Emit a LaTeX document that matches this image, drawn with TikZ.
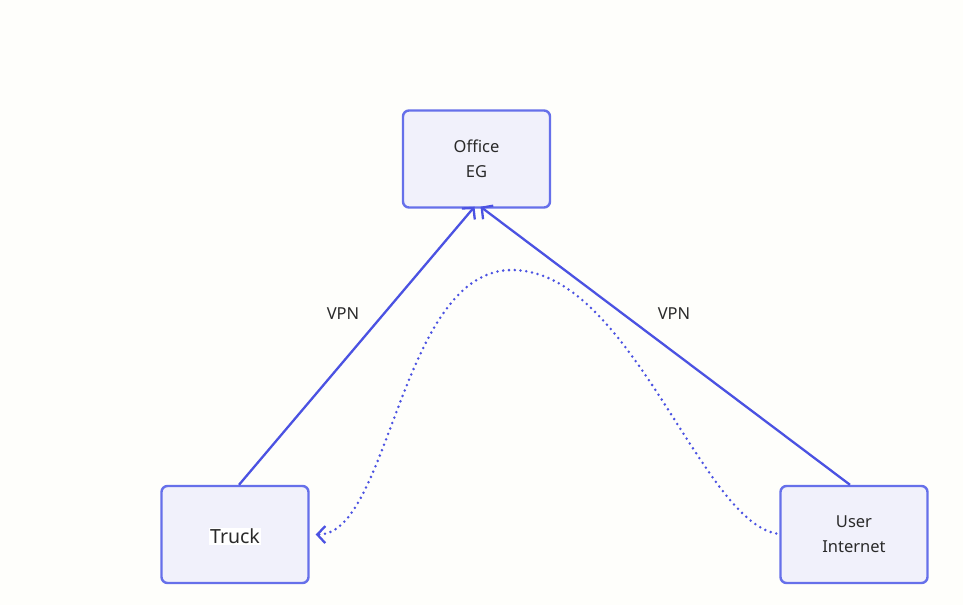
\documentclass[tikz,border=0pt]{standalone}
\usepackage{fontspec}
\setmainfont{Noto Sans}
\usetikzlibrary{arrows.meta,calc}
\definecolor{bgc}{HTML}{FEFEFB}
\definecolor{boxfill}{HTML}{F1F1FB}
\definecolor{boxdraw}{HTML}{6670EA}
\definecolor{edgec}{HTML}{4B52E2}
\definecolor{txt}{HTML}{2A2A2A}
\tikzset{
  box/.style={draw=boxdraw, fill=boxfill, line width=2.4pt, rounded corners=6pt,
    minimum width=147pt, minimum height=97pt, inner sep=0pt, align=center,
    text=txt, font=\fontsize{16.5}{25}\selectfont},
  edge/.style={draw=edgec, line width=2.3pt, -{Straight Barb[length=8pt,width=17pt,line width=2.3pt]}},
  dotedge/.style={draw=edgec, line width=2.8pt, line cap=round, dash pattern=on 0pt off 5.8pt,
    -{Straight Barb[length=8pt,width=17pt,line width=2.3pt,line cap=butt]}},
  lbl/.style={text=txt, font=\fontsize{16.5}{20}\selectfont, inner sep=0pt}
}
\begin{document}
\begin{tikzpicture}[x=1pt,y=-1pt]
\path[fill=bgc] (0,0) rectangle (963,605);
\useasboundingbox (0,0) rectangle (963,605);
\node[box] (office) at (476.5,159) {Office\\EG};
\node[box] (truck) at (235,534.5) {};
\node[fill=white, inner sep=1pt, text=txt, font=\fontsize{19.5}{24}\selectfont] (trucklbl) at (235,536.5) {Truck};
\node[box] (user) at (854,534.5) {User\\Internet};
\draw[edge] ([xshift=4pt]truck.north) -- ([xshift=-2pt,yshift=2pt]office.south);
\draw[edge] ([xshift=-4pt]user.north) -- ([xshift=4pt,yshift=2pt]office.south);
\coordinate (peak) at (512,270);
\draw[dotedge] ([xshift=-3pt,yshift=1pt]user.west) .. controls (700,520) and (630,270) .. (peak)
  .. controls (400,270) and (390,535) .. ([xshift=6pt]truck.east);
\node[lbl] (vpn1) at (343,314) {VPN};
\node[lbl] (vpn2) at (674,314) {VPN};
\end{tikzpicture}
\end{document}
